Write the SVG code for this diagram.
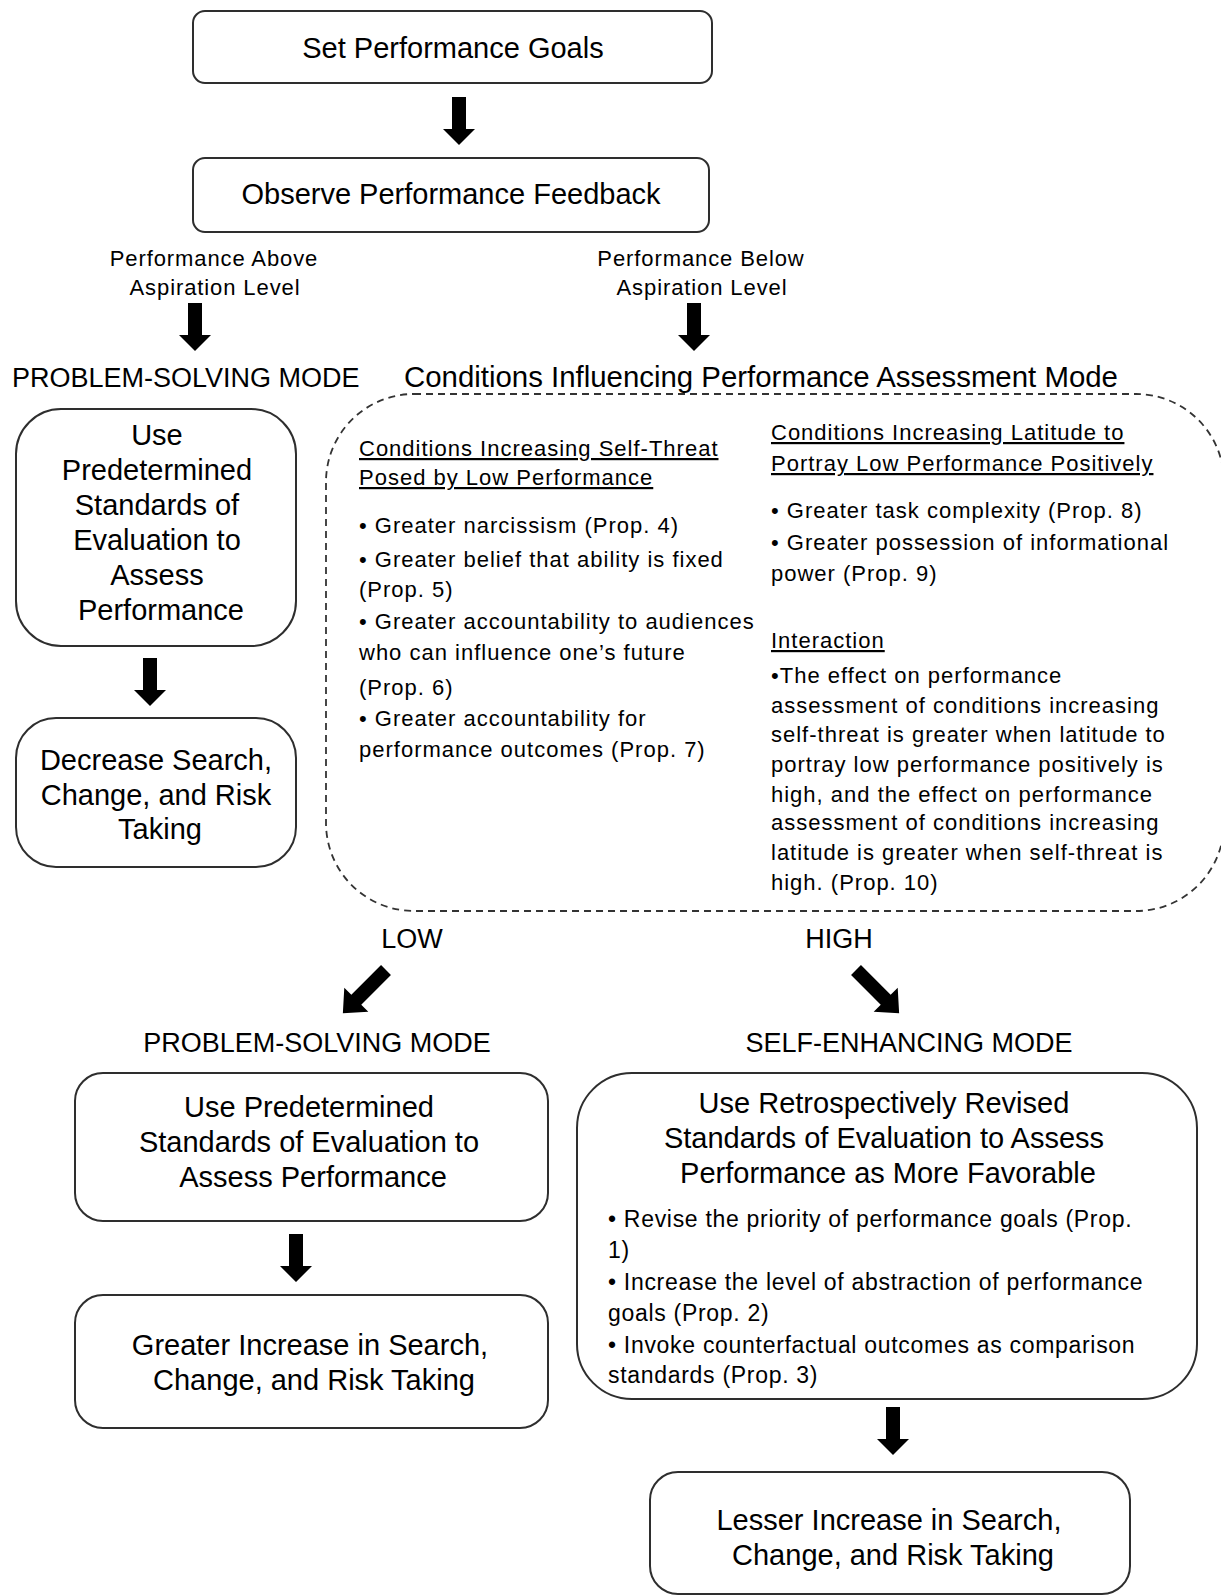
<svg xmlns="http://www.w3.org/2000/svg" width="1221" height="1596" viewBox="0 0 1221 1596">
<style>
  .box { fill: #ffffff; stroke: #2e2e2e; stroke-width: 2; }
  .t { font-family: "Liberation Sans", Arial, sans-serif; fill: #000; }
  .title { font-size: 29px; text-anchor: middle; }
  .mode { font-size: 27px; }
  .lbl { font-size: 22px; letter-spacing: 0.9px; text-anchor: middle; }
  .cond { font-size: 22px; letter-spacing: 1px; }
  .ul { text-decoration: underline; }
  .bul { font-size: 23px; letter-spacing: 0.7px; }
  .arrow { fill: #000; }
  .dash { fill: none; stroke: #333; stroke-width: 1.8; stroke-dasharray: 7 5; }
</style>
<defs>
  <path id="down" d="M -7 0 H 7 V 32 H 16 L 0 48 L -16 32 H -7 Z"/>
  <path id="diag" d="M -7 0 H 7 V 42 H 17 L 0 61 L -17 42 H -7 Z"/>
</defs>

<g id="connectors">
  <use href="#down" class="arrow" transform="translate(459,97)"/>
  <use href="#down" class="arrow" transform="translate(195,303)"/>
  <use href="#down" class="arrow" transform="translate(694,303)"/>
  <use href="#down" class="arrow" transform="translate(150,658)"/>
  <use href="#diag" class="arrow" transform="translate(386,970) rotate(45)"/>
  <use href="#diag" class="arrow" transform="translate(856,970) rotate(-45)"/>
  <use href="#down" class="arrow" transform="translate(296,1234)"/>
  <use href="#down" class="arrow" transform="translate(893,1407)"/>
</g>

<g id="set-goals">
  <rect class="box" x="193" y="11" width="519" height="72" rx="12"/>
  <text class="t title" x="453" y="58">Set Performance Goals</text>
</g>

<g id="observe-feedback">
  <rect class="box" x="193" y="158" width="516" height="74" rx="12"/>
  <text class="t title" x="451" y="204">Observe Performance Feedback</text>
</g>

<g id="label-above">
  <text class="t lbl" x="214" y="266">Performance Above</text>
  <text class="t lbl" x="215" y="295">Aspiration Level</text>
</g>

<g id="label-below">
  <text class="t lbl" x="701" y="266">Performance Below</text>
  <text class="t lbl" x="702" y="295">Aspiration Level</text>
</g>

<g id="mode-problem-solving-1">
  <text class="t mode" x="12" y="387">PROBLEM-SOLVING MODE</text>
</g>

<g id="use-predetermined-1">
  <rect class="box" x="16" y="409" width="280" height="237" rx="45"/>
  <text class="t title">
    <tspan x="161" y="445">Use</tspan>
    <tspan x="161" y="480">Predetermined</tspan>
    <tspan x="161" y="515">Standards of</tspan>
    <tspan x="161" y="550">Evaluation to</tspan>
    <tspan x="161" y="585">Assess</tspan>
    <tspan x="161" y="620">Performance</tspan>
  </text>
</g>

<g id="decrease-search">
  <rect class="box" x="16" y="718" width="280" height="149" rx="40"/>
  <text class="t title">
    <tspan x="160" y="770">Decrease Search,</tspan>
    <tspan x="160" y="805">Change, and Risk</tspan>
    <tspan x="160" y="839">Taking</tspan>
  </text>
</g>

<g id="conditions">
  <text class="t" x="404" y="387" font-size="29.4">Conditions Influencing Performance Assessment Mode</text>
  <rect class="dash" x="326" y="394" width="898" height="517" rx="88"/>
  <text class="t cond">
    <tspan class="ul" x="359" y="456">Conditions Increasing Self-Threat</tspan>
    <tspan class="ul" x="359" y="485">Posed by Low Performance</tspan>
    <tspan x="359" y="533">• Greater narcissism (Prop. 4)</tspan>
    <tspan x="359" y="567">• Greater belief that ability is fixed</tspan>
    <tspan x="359" y="597">(Prop. 5)</tspan>
    <tspan x="359" y="629">• Greater accountability to audiences</tspan>
    <tspan x="359" y="660">who can influence one’s future</tspan>
    <tspan x="359" y="695">(Prop. 6)</tspan>
    <tspan x="359" y="726">• Greater accountability for</tspan>
    <tspan x="359" y="757">performance outcomes (Prop. 7)</tspan>
  </text>
  <text class="t cond">
    <tspan class="ul" x="771" y="440">Conditions Increasing Latitude to</tspan>
    <tspan class="ul" x="771" y="471">Portray Low Performance Positively</tspan>
    <tspan x="771" y="518">• Greater task complexity (Prop. 8)</tspan>
    <tspan x="771" y="550">• Greater possession of informational</tspan>
    <tspan x="771" y="581">power (Prop. 9)</tspan>
    <tspan class="ul" x="771" y="648">Interaction</tspan>
    <tspan x="771" y="683">•The effect on performance</tspan>
    <tspan x="771" y="713">assessment of conditions increasing</tspan>
    <tspan x="771" y="742">self-threat is greater when latitude to</tspan>
    <tspan x="771" y="772">portray low performance positively is</tspan>
    <tspan x="771" y="802">high, and the effect on performance</tspan>
    <tspan x="771" y="830">assessment of conditions increasing</tspan>
    <tspan x="771" y="860">latitude is greater when self-threat is</tspan>
    <tspan x="771" y="890">high. (Prop. 10)</tspan>
  </text>
</g>

<g id="label-low">
  <text class="t" x="412" y="948" font-size="27" text-anchor="middle">LOW</text>
</g>
<g id="label-high">
  <text class="t" x="839" y="948" font-size="27" text-anchor="middle">HIGH</text>
</g>

<g id="mode-problem-solving-2">
  <text class="t mode" x="317" y="1052" text-anchor="middle">PROBLEM-SOLVING MODE</text>
</g>
<g id="mode-self-enhancing">
  <text class="t mode" x="909" y="1052" text-anchor="middle">SELF-ENHANCING MODE</text>
</g>

<g id="use-predetermined-2">
  <rect class="box" x="75" y="1073" width="473" height="148" rx="28"/>
  <text class="t title">
    <tspan x="313" y="1117">Use Predetermined</tspan>
    <tspan x="313" y="1152">Standards of Evaluation to</tspan>
    <tspan x="313" y="1187">Assess Performance</tspan>
  </text>
</g>

<g id="greater-increase">
  <rect class="box" x="75" y="1295" width="473" height="133" rx="28"/>
  <text class="t title">
    <tspan x="314" y="1355">Greater Increase in Search,</tspan>
    <tspan x="314" y="1390">Change, and Risk Taking</tspan>
  </text>
</g>

<g id="use-retrospective">
  <rect class="box" x="577" y="1073" width="620" height="326" rx="55"/>
  <text class="t title">
    <tspan x="888" y="1113">Use Retrospectively Revised</tspan>
    <tspan x="888" y="1148">Standards of Evaluation to Assess</tspan>
    <tspan x="888" y="1183">Performance as More Favorable</tspan>
  </text>
  <text class="t bul">
    <tspan x="608" y="1227">• Revise the priority of performance goals (Prop.</tspan>
    <tspan x="608" y="1258">1)</tspan>
    <tspan x="608" y="1290">• Increase the level of abstraction of performance</tspan>
    <tspan x="608" y="1321">goals (Prop. 2)</tspan>
    <tspan x="608" y="1353">• Invoke counterfactual outcomes as comparison</tspan>
    <tspan x="608" y="1383">standards (Prop. 3)</tspan>
  </text>
</g>

<g id="lesser-increase">
  <rect class="box" x="650" y="1472" width="480" height="122" rx="28"/>
  <text class="t title">
    <tspan x="893" y="1530">Lesser Increase in Search,</tspan>
    <tspan x="893" y="1565">Change, and Risk Taking</tspan>
  </text>
</g>
</svg>
